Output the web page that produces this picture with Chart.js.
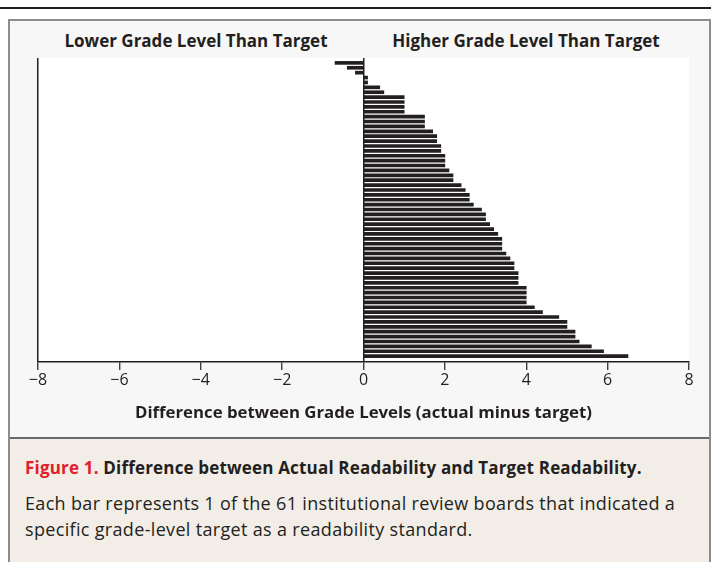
<!DOCTYPE html>
<html>
<head>
<meta charset="utf-8">
<script src="https://cdn.jsdelivr.net/npm/chart.js@4.4.1/dist/chart.umd.min.js"></script>
<style>
  html, body { margin:0; padding:0; width:711px; height:563px; overflow:hidden; background:#ffffff; font-family:"Open Sans", "Noto Sans", sans-serif; color:#231f20; }
  #rule { position:absolute; left:0; top:7px; width:711px; height:2px; background:#231f20; }
  #panel { position:absolute; left:8px; top:19px; width:699px; height:539px; border:2px solid #8c8c8c; background:#f7f7f7; }
  #cap { position:absolute; left:0; top:416px; width:699px; height:123px; border-top:2px solid #6a6a6a; background:#f2ede6; }
  #cap .t { position:absolute; left:15px; top:17px; font-size:17px; font-weight:700; white-space:nowrap; letter-spacing:0.18px; }
  #cap .t .fig { color:#e0202a; }
  #cap .b { position:absolute; left:15px; top:51px; font-size:18px; line-height:26px; white-space:nowrap; letter-spacing:0.33px; }
  .side { position:absolute; top:29px; font-size:17px; font-weight:700; white-space:nowrap; transform:translateX(-50%); }
  #c { position:absolute; left:0; top:0; }
</style>
</head>
<body>
<div id="rule"></div>
<div id="panel">
  <div id="cap">
    <div class="t"><span class="fig">Figure 1.</span> Difference between Actual Readability and Target Readability.</div>
    <div class="b">Each bar represents 1 of the 61 institutional review boards that indicated a<br>specific grade-level target as a readability standard.</div>
  </div>
</div>
<div class="side" style="left:196px">Lower Grade Level Than Target</div>
<div class="side" style="left:526px">Higher Grade Level Than Target</div>
<canvas id="c" width="711" height="563"></canvas>
<script>
// 61 institutional review boards, sorted from lowest to highest difference
const boards = Array.from({length: 61}, (_, i) => 'IRB ' + (i + 1));
const differences = [
  -0.7, -0.4, -0.2, 0.1, 0.1, 0.4, 0.5, 1.0, 1.0, 1.0,
  1.0, 1.5, 1.5, 1.5, 1.7, 1.8, 1.8, 1.9, 1.9, 2.0,
  2.0, 2.0, 2.1, 2.2, 2.2, 2.4, 2.5, 2.6, 2.6, 2.7,
  2.9, 3.0, 3.0, 3.1, 3.2, 3.3, 3.4, 3.4, 3.4, 3.5,
  3.6, 3.7, 3.7, 3.8, 3.8, 3.8, 4.0, 4.0, 4.0, 4.0,
  4.2, 4.4, 4.8, 5.0, 5.0, 5.2, 5.2, 5.3, 5.6, 5.9,
  6.5
];
const xTicks = [-8, -6, -4, -2, 0, 2, 4, 6, 8];
const xTitle = 'Difference between Grade Levels (actual minus target)';

const INK = '#231f20';

const plotBg = {
  id: 'plotBg',
  beforeDraw(chart) {
    const {ctx, chartArea: a} = chart;
    ctx.save();
    ctx.fillStyle = '#ffffff';
    ctx.fillRect(a.left, a.top, a.right - a.left, a.bottom - a.top);
    ctx.restore();
  }
};

new Chart(document.getElementById('c'), {
  type: 'bar',
  data: {
    labels: boards,
    datasets: [{
      data: differences.map((v, i) => ({x: v, y: i})),
      backgroundColor: INK,
      borderWidth: 0,
      barThickness: 3
    }]
  },
  options: {
    indexAxis: 'y',
    responsive: false,
    animation: false,
    layout: { padding: { left: 38, right: 22, top: 58, bottom: 140 } },
    plugins: { legend: { display: false }, tooltip: { enabled: false } },
    scales: {
      x: {
        type: 'linear',
        min: -8, max: 8,
        afterBuildTicks: s => { s.ticks = xTicks.map(v => ({ value: v })); },
        afterFit: s => { s.height = 61; },
        ticks: {
          autoSkip: false, maxRotation: 0, padding: 1, color: INK,
          font: { family: 'Open Sans', size: 16 },
          callback: v => String(v).replace('-', '\u2212')
        },
        grid: {
          drawOnChartArea: true,
          color: c => (c.tick && (c.tick.value === -8 || c.tick.value === 0)) ? INK : 'rgba(0,0,0,0)',
          lineWidth: 1.5,
          tickLength: 8,
          tickColor: INK,
          tickWidth: 1.2
        },
        border: { display: true, color: INK, width: 1.5 },
        title: {
          display: true, text: xTitle, color: INK,
          font: { family: 'Open Sans', size: 16.8, weight: 'bold' },
          padding: { top: 0, bottom: 0 }
        }
      },
      y: {
        type: 'linear', display: false, reverse: true, offset: false,
        min: -1, max: 61.2
      }
    }
  },
  plugins: [plotBg]
});
</script>
</body>
</html>
